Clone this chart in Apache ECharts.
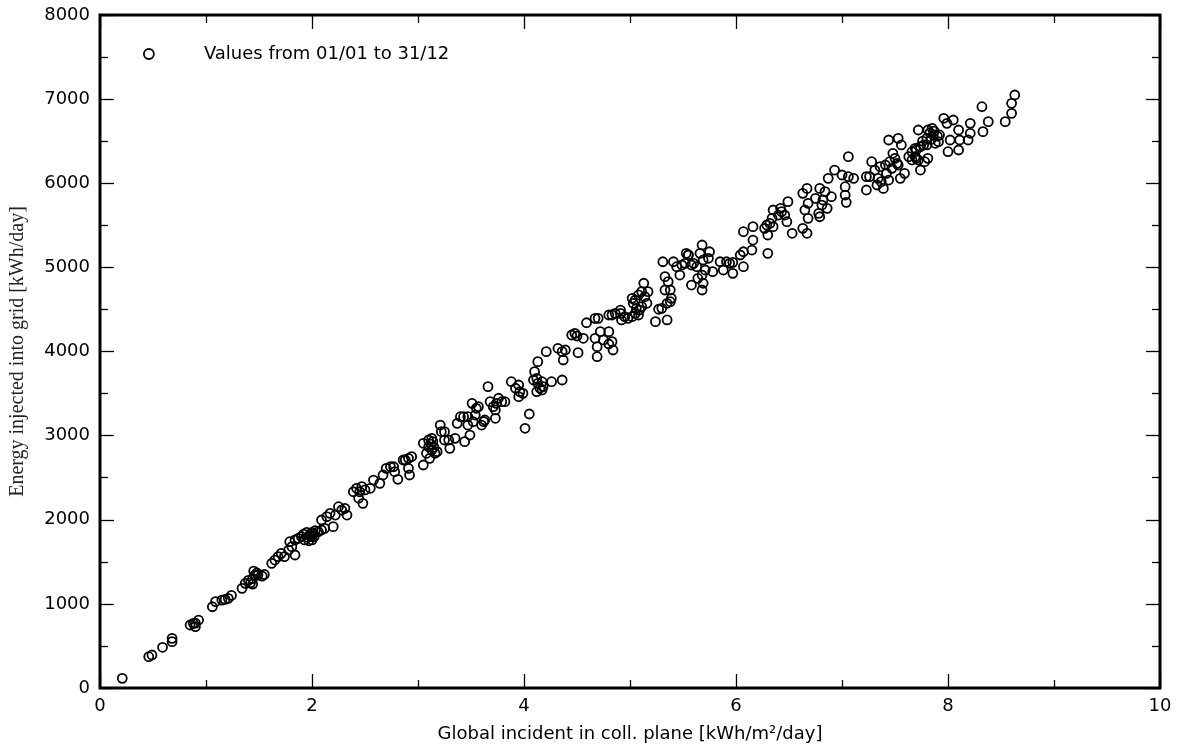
<!DOCTYPE html>
<html>
<head>
<meta charset="utf-8">
<script src="https://cdn.jsdelivr.net/npm/echarts@6/dist/echarts.min.js"></script>
<style>
html,body{margin:0;padding:0;background:#fff;}
#chart{width:1177px;height:752px;}
</style>
</head>
<body>
<div id="chart"></div>
<script>
// Global incident in collector plane [kWh/m²/day]
const incident = [
0.21,0.46,0.49,0.59,0.68,0.68,0.85,0.88,0.90,0.93,0.90,1.06,1.09,1.15,1.18,1.21,1.24,1.34,1.37,1.40,1.42,1.44,1.45,1.46,1.48,1.49,1.44,1.53,1.55,
1.62,1.65,1.68,1.71,1.74,1.78,1.81,1.84,1.79,1.84,1.87,1.90,1.92,1.93,1.95,1.96,1.98,2.00,2.00,2.02,2.03,1.97,1.99,2.01,
2.06,2.09,2.12,2.09,2.14,2.17,2.20,2.22,2.25,2.28,2.31,2.33,2.39,2.42,2.45,2.47,2.48,2.44,2.50,2.55,2.58,2.64,2.67,2.70,2.74,2.77,2.78,2.81,2.86,
2.88,2.91,2.94,2.91,2.92,3.05,3.05,3.10,3.13,3.14,3.10,3.13,3.08,3.16,3.11,3.18,3.12,3.15,
3.21,3.22,3.25,3.25,3.29,3.30,3.35,3.37,3.40,3.43,3.44,3.47,3.47,3.49,3.51,3.52,3.54,3.55,3.57,3.60,3.62,3.63,3.66,3.68,3.71,3.73,3.74,3.76,3.73,3.79,3.82,
3.88,3.92,3.95,3.95,3.96,3.99,4.01,4.05,
4.09,4.10,4.12,4.13,4.15,4.12,4.17,4.18,4.17,4.26,4.36,4.13,4.21,4.32,4.36,4.39,4.37,4.51,4.45,4.48,4.50,4.56,4.59,4.67,4.70,4.67,4.69,4.69,4.72,4.75,4.80,4.83,4.84,4.83,4.86,4.91,4.92,
4.80,4.80,4.91,4.95,4.98,5.02,5.05,5.08,5.06,5.09,5.11,5.03,5.05,5.02,5.08,5.11,5.13,5.14,5.16,5.17,5.24,5.35,5.27,5.30,5.35,5.38,5.39,5.38,5.33,5.36,5.33,
5.31,5.41,5.44,5.47,5.49,5.52,5.53,5.55,5.58,5.60,5.63,5.66,5.68,5.69,5.75,5.74,5.71,5.68,5.64,5.69,5.58,5.68,5.78,5.85,5.88,5.55,
5.91,5.94,5.97,5.97,6.07,6.04,6.07,6.15,6.16,6.07,6.16,6.30,6.27,6.30,6.29,6.32,6.35,6.34,6.35,6.40,6.43,6.42,6.46,6.48,6.49,6.53,
6.63,6.67,6.68,6.65,6.68,6.63,6.67,6.75,6.78,6.79,6.81,6.79,6.84,6.87,
6.93,7.00,6.90,6.82,6.86,7.03,7.06,7.11,7.03,7.04,7.06,7.23,7.23,7.26,7.28,7.31,7.33,7.34,7.37,7.39,7.36,7.41,7.42,7.44,7.45,7.47,7.48,7.50,7.52,7.53,7.55,
7.44,7.53,7.56,7.59,7.63,7.66,7.69,7.70,7.74,7.72,
7.66,7.69,7.72,7.70,7.74,7.77,7.80,7.81,7.85,7.86,7.88,7.91,7.80,7.81,7.78,7.92,7.96,7.99,8.02,8.05,8.10,8.11,8.00,8.10,8.21,8.21,8.19,
7.83,7.87,7.84,7.76,7.90,
8.32,8.33,8.38,8.54,8.60,8.60,8.63
];
// Energy injected into grid [kWh/day]
const energy = [
115,372,392,484,551,590,749,769,729,808,770,966,1026,1045,1054,1066,1101,1185,1244,1280,1250,1300,1390,1340,1367,1343,1235,1330,1350,
1482,1521,1561,1601,1561,1640,1680,1581,1739,1759,1779,1800,1830,1760,1850,1790,1820,1760,1850,1800,1870,1750,1800,1830,
1858,1878,1898,1997,2037,2076,1918,2056,2155,2116,2136,2056,2333,2374,2333,2393,2195,2255,2354,2374,2472,2433,2532,2611,2630,2630,2571,2481,2710,
2710,2730,2750,2611,2532,2651,2909,2948,2968,2928,2868,2829,2790,2790,2730,2809,2900,2860,
3126,3047,3047,2948,2948,2849,2968,3146,3225,3225,2928,3225,3126,3007,3384,3166,3245,3325,3344,3126,3166,3186,3582,3403,3344,3305,3384,3444,3206,3403,3403,
3641,3563,3602,3463,3522,3503,3087,3257,
3661,3760,3681,3622,3563,3522,3542,3582,3641,3641,3661,3879,3998,4038,3998,4018,3899,3986,4196,4216,4184,4157,4342,4394,4394,4157,4057,3938,4236,4137,4236,4117,4018,4434,4454,4454,4375,
4089,4434,4493,4414,4394,4414,4454,4434,4513,4493,4533,4573,4612,4632,4672,4711,4811,4652,4573,4711,4355,4375,4502,4513,4573,4592,4632,4731,4731,4830,4890,
5067,5067,5008,4909,5028,5048,5167,5147,5028,5048,5008,5167,5266,5088,5186,5108,4969,4909,4870,4811,4790,4731,4949,5067,4969,5150,
5067,5048,5060,4929,5008,5147,5186,5206,5325,5424,5484,5167,5464,5385,5504,5523,5484,5583,5682,5622,5662,5702,5622,5543,5781,5405,
5464,5405,5583,5682,5761,5880,5939,5821,5642,5602,5741,5939,5900,6058,
6157,6098,5840,5801,5702,5959,6078,6058,5860,5773,6316,5920,6078,6078,6256,6157,5979,6058,6019,5939,6197,6217,6118,6038,6256,6177,6356,6296,6237,6217,6058,
6514,6534,6455,6118,6316,6375,6415,6296,6157,6633,
6276,6316,6276,6395,6435,6455,6534,6633,6653,6574,6475,6494,6455,6296,6256,6574,6772,6712,6514,6752,6633,6514,6375,6395,6712,6594,6514,
6600,6620,6520,6500,6560,
6910,6613,6732,6732,6831,6950,7049
];
const xTicks = {min: 0, max: 10, interval: 2};
const yTicks = {min: 0, max: 8000, interval: 1000};
const seriesName = 'Values from 01/01 to 31/12';
const xTitle = 'Global incident in coll. plane [kWh/m\u00b2/day]';
const yTitle = 'Energy injected into grid [kWh/day]';

const points = incident.map((x, i) => [x, energy[i]]);

const tickStyle = {color: '#000', width: 1.3};
function axisBase(extra) {
  return Object.assign({
    type: 'value',
    axisLine: {show: false, onZero: false},
    axisTick: {show: true, inside: true, length: 14, lineStyle: tickStyle},
    minorTick: {show: true, splitNumber: 2, length: 8, lineStyle: tickStyle},
    splitLine: {show: false},
    minorSplitLine: {show: false}
  }, extra);
}
const sansFont = '"DejaVu Sans", "Liberation Sans", Arial, sans-serif';

const chart = echarts.init(document.getElementById('chart'), null, {renderer: 'canvas'});
chart.setOption({
  backgroundColor: '#fff',
  animation: false,
  grid: {left: 100, right: 17, top: 15, bottom: 64, show: true, borderColor: '#000', borderWidth: 3, backgroundColor: 'transparent'},
  legend: {
    data: [seriesName],
    left: 138, top: 40,
    itemWidth: 10, itemHeight: 10,
    itemStyle: {color: 'transparent', borderColor: '#000', borderWidth: 1.8},
    formatter: name => '{gap|}{t|' + name + '}',
    textStyle: {
      rich: {
        gap: {width: 45},
        t: {fontSize: 18, fontFamily: sansFont, color: '#000'}
      }
    }
  },
  xAxis: [
    axisBase(Object.assign({}, xTicks, {
      position: 'bottom',
      axisLabel: {color: '#000', fontSize: 18, fontFamily: sansFont, margin: 9},
      name: xTitle, nameLocation: 'middle', nameGap: 37,
      nameTextStyle: {color: '#000', fontSize: 18, fontFamily: sansFont}
    })),
    axisBase(Object.assign({}, xTicks, {position: 'top', axisLabel: {show: false}}))
  ],
  yAxis: [
    axisBase(Object.assign({}, yTicks, {
      position: 'left',
      axisLabel: {color: '#000', fontSize: 18, fontFamily: sansFont, margin: 10, formatter: v => String(v)},
      name: yTitle, nameLocation: 'middle', nameGap: 72,
      nameTextStyle: {color: '#222', fontSize: 20, fontFamily: '"Liberation Serif", "Times New Roman", serif'}
    })),
    axisBase(Object.assign({}, yTicks, {position: 'right', axisLabel: {show: false}}))
  ],
  series: [{
    name: seriesName,
    type: 'scatter',
    xAxisIndex: 0, yAxisIndex: 0,
    symbol: 'circle',
    symbolSize: 9,
    itemStyle: {color: 'transparent', borderColor: '#000', borderWidth: 1.8, opacity: 1},
    emphasis: {disabled: true},
    data: points
  }]
});
</script>
</body>
</html>
